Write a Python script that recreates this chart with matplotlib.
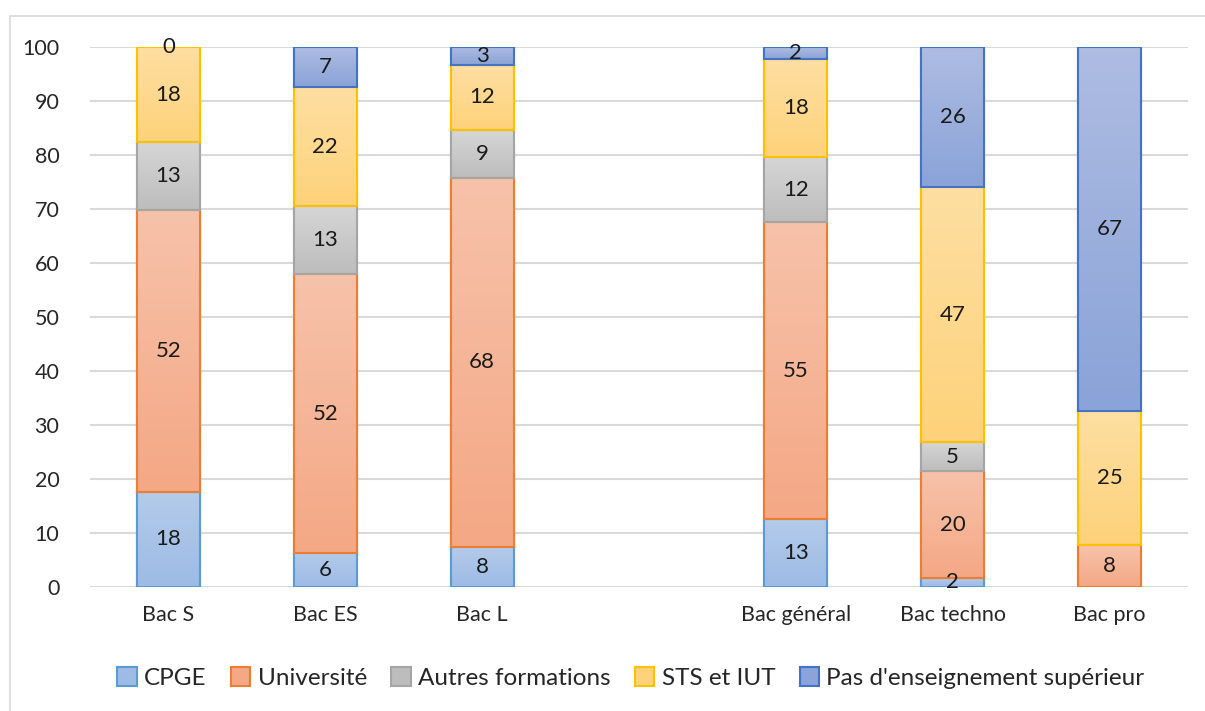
import numpy as np
import matplotlib
matplotlib.use("Agg")
import matplotlib.pyplot as plt
from matplotlib.patches import Rectangle
from matplotlib.colors import LinearSegmentedColormap

plt.rcParams['font.family'] = ['Lato', 'DejaVu Sans']

categories = ["Bac S", "Bac ES", "Bac L", "", "Bac général", "Bac techno", "Bac pro"]
series = ["CPGE", "Université", "Autres formations", "STS et IUT", "Pas d'enseignement supérieur"]
cpge = [17.6, 6.3, 7.5, np.nan, 12.6, 1.7, np.nan]
universite = [52.2, 51.6, 68.3, np.nan, 54.9, 19.7, 7.7]
autres = [12.6, 12.6, 8.9, np.nan, 12.1, 5.4, np.nan]
sts_iut = [17.6, 22.1, 11.9, np.nan, 18.2, 47.3, 24.9]
pas_sup = [0.0, 7.4, 3.4, np.nan, 2.2, 25.9, 67.4]
yticks = list(range(0, 101, 10))

data = [cpge, universite, autres, sts_iut, pas_sup]
edge_colors = ["#5b9bd5", "#ed7d31", "#a5a5a5", "#ffc000", "#4472c4"]
top_colors = ["#b4cbea", "#f7c2aa", "#d6d6d6", "#fedfa2", "#aebce2"]
bot_colors = ["#9dbbe5", "#f4a885", "#bdbdbd", "#fdd27a", "#8aa3d8"]

fig = plt.figure(figsize=(12.05, 7.11), dpi=100)
ax = fig.add_axes([90/1205, 1-587/711, (1188-90)/1205, (587-47)/711])

x = np.arange(len(categories))
width = 0.40
bottom = np.zeros(len(categories))
grad = np.linspace(0, 1, 64).reshape(-1, 1)
mask = ~np.isnan(np.array(universite, dtype=float))
for i, (vals, ec, tc, bc, name) in enumerate(zip(data, edge_colors, top_colors, bot_colors, series)):
    v = np.array(vals, dtype=float)
    h = np.nan_to_num(v)
    bars = ax.bar(x[mask], h[mask], width, bottom=bottom[mask], color=bc,
                  edgecolor=ec, linewidth=1.5, label=name, zorder=3)
    cmap = LinearSegmentedColormap.from_list("g%d" % i, [bc, tc])
    for b in bars:
        if b.get_height() <= 0:
            continue
        x0, y0 = b.get_x(), b.get_y()
        im = ax.imshow(grad, cmap=cmap, aspect='auto', origin='lower',
                       extent=[x0, x0 + b.get_width(), y0, y0 + b.get_height()],
                       zorder=3.5, interpolation='bilinear')
        im.set_clip_path(b)
        r = Rectangle((x0, y0), b.get_width(), b.get_height(), fill=False,
                      edgecolor=ec, linewidth=1.5, zorder=4)
        ax.add_patch(r)
    for xi, hv, bt, raw in zip(x, h, bottom, v):
        if np.isnan(raw):
            continue
        ax.text(xi, bt + hv / 2, "%d" % round(hv), ha='center', va='center',
                fontsize=16, color='#1a1a1a', zorder=6)
    bottom = bottom + h

ax.set_xlim(-0.5, len(categories) - 0.5)
ax.set_ylim(0, 100)
ax.set_yticks(yticks)
ax.set_xticks(x)
ax.set_xticklabels(categories)
ax.grid(axis='y', color='#d9d9d9', linewidth=1.5, zorder=0)
ax.set_axisbelow(True)
for s in ax.spines.values():
    s.set_visible(False)
ax.tick_params(axis='both', length=0, labelsize=15.5, colors='#262626')
ax.tick_params(axis='y', pad=22)
ax.tick_params(axis='x', pad=13)

handles, labels = ax.get_legend_handles_labels()
leg = fig.legend(handles, labels, loc='center', bbox_to_anchor=(631/1205, 1-678/711), ncol=5,
                 frameon=False, fontsize=17.5, handlelength=0.8, handleheight=0.8,
                 handletextpad=0.3, columnspacing=1.0)
for t in leg.get_texts():
    t.set_color('#262626')

fig.add_artist(Rectangle((10/1205, -0.01), 1.1, 1-16/711 + 0.01, transform=fig.transFigure,
                         fill=False, edgecolor='#d9d9d9', linewidth=1.2))

fig.savefig("out.png", dpi=100)
